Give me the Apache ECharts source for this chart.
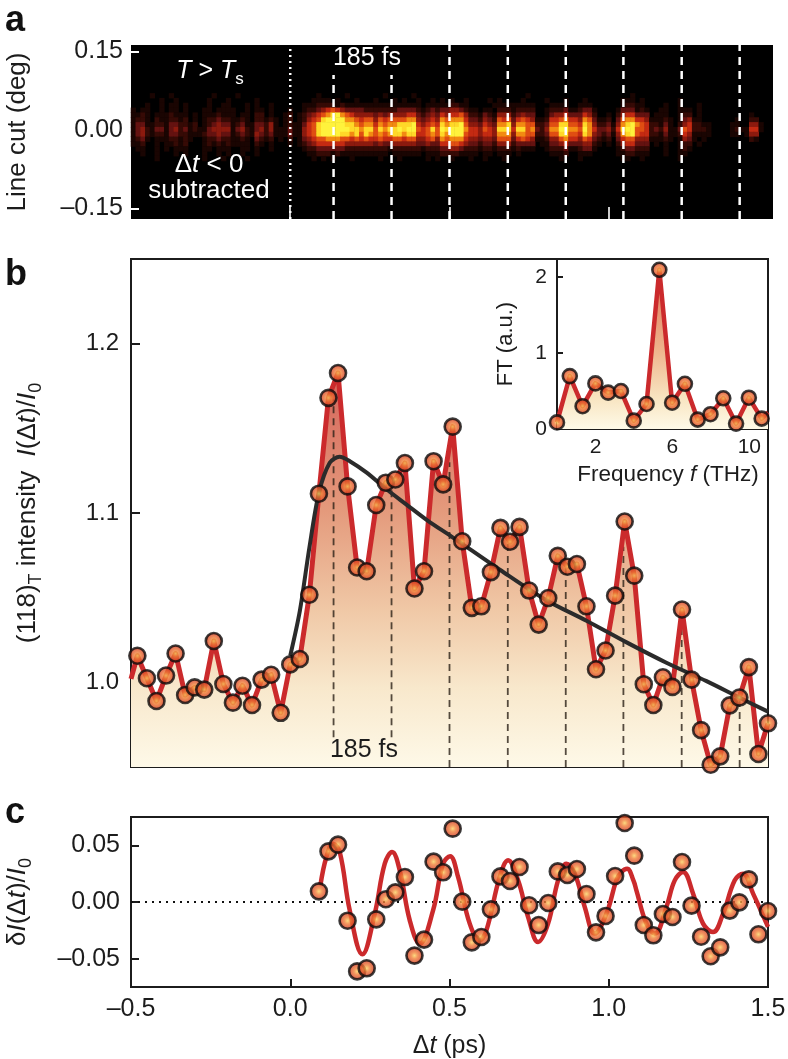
<!DOCTYPE html>
<html><head><meta charset="utf-8">
<style>html,body{margin:0;padding:0;background:#fff}#c{width:788px;height:1059px}</style>
<script src="https://cdn.jsdelivr.net/npm/echarts@6/dist/echarts.min.js"></script>
</head><body><div id="c"></div>
<script>
const FONT='"Liberation Sans",Arial,sans-serif';
// panel b: (118)T intensity
const bTimes=[-0.48,-0.45,-0.42,-0.39,-0.36,-0.33,-0.30,-0.27,-0.24,-0.21,-0.18,-0.15,-0.12,-0.09,-0.06,-0.03,0,0.03,0.06,0.09,0.12,0.15,0.18,0.21,0.24,0.27,0.30,0.33,0.36,0.39,0.42,0.45,0.48,0.51,0.54,0.57,0.60,0.63,0.66,0.69,0.72,0.75,0.78,0.81,0.84,0.87,0.90,0.93,0.96,0.99,1.02,1.05,1.08,1.11,1.14,1.17,1.20,1.23,1.26,1.29,1.32,1.35,1.38,1.41,1.44,1.47,1.50];
const bValues=[1.0157,1.0024,0.989,1.004,1.017,0.9925,0.997,0.9957,1.0244,0.999,0.988,0.998,0.9866,1.0016,1.0045,0.982,1.0106,1.0138,1.0517,1.1114,1.168,1.1827,1.1157,1.0678,1.0656,1.1047,1.1179,1.1198,1.1295,1.0554,1.0656,1.1306,1.1169,1.151,1.0833,1.044,1.0449,1.0651,1.0912,1.083,1.0918,1.0542,1.0341,1.0498,1.0747,1.0683,1.0699,1.0449,1.0077,1.0188,1.0512,1.095,1.063,0.9989,0.9866,1.003,0.9973,1.043,1.0016,0.9718,0.9513,0.9563,0.9864,0.991,1.009,0.9577,0.9758];
const bLineStart=[-0.5,1.002];
const fitTimes=[0,0.03,0.06,0.09,0.124,0.155,0.187,0.24,0.302,0.365,0.428,0.511,0.658,0.804,0.93,1.056,1.181,1.307,1.41,1.5];
const fitValues=[1.0157,1.042,1.0795,1.112,1.1297,1.1332,1.1306,1.1238,1.114,1.105,1.096,1.0855,1.0665,1.0485,1.0364,1.0236,1.0116,1.0007,0.991,0.9827];
const dashTimes=[0.136,0.318,0.5,0.683,0.865,1.046,1.229,1.411];
const dashTops=[1.167,1.118,1.13,1.083,1.068,1.08,1.04,0.991];
const dashBottoms=[0.9676,0.9676,0.95,0.95,0.95,0.95,0.95,0.95];
// inset: Fourier transform
const ftFreq=[0,0.665,1.33,1.995,2.66,3.325,3.99,4.655,5.32,5.985,6.65,7.315,7.98,8.645,9.31,9.975,10.64];
const ftValues=[0.087,0.696,0.30,0.60,0.479,0.50,0.11,0.329,2.095,0.346,0.595,0.124,0.195,0.404,0.071,0.412,0.137];
const ftLineEnd=[10.97,0.22];
// panel c: residual
const cTimes=[0.09,0.12,0.15,0.18,0.21,0.24,0.27,0.30,0.33,0.36,0.39,0.42,0.45,0.48,0.51,0.54,0.57,0.60,0.63,0.66,0.69,0.72,0.75,0.78,0.81,0.84,0.87,0.90,0.93,0.96,0.99,1.02,1.05,1.08,1.11,1.14,1.17,1.20,1.23,1.26,1.29,1.32,1.35,1.38,1.41,1.44,1.47,1.50];
const cValues=[0.0094,0.0447,0.0506,-0.0165,-0.0612,-0.0585,-0.0153,0.0024,0.0085,0.022,-0.0473,-0.0332,0.0356,0.0262,0.0647,0.0003,-0.0356,-0.0309,-0.0065,0.0226,0.0185,0.0309,-0.0029,-0.0203,-0.0009,0.027,0.0238,0.0291,0.0071,-0.0268,-0.0123,0.0229,0.0697,0.0409,-0.0203,-0.0294,-0.0106,-0.0132,0.0353,-0.0032,-0.0306,-0.0479,-0.04,-0.0076,-0.0003,0.02,-0.0285,-0.0079];
const cFitTimes=[0.0947,0.1135,0.1344,0.1554,0.1868,0.2265,0.2653,0.2967,0.3197,0.3438,0.3752,0.4066,0.4484,0.4798,0.5018,0.5269,0.5635,0.5949,0.6159,0.6577,0.6839,0.7153,0.7467,0.7781,0.8095,0.8409,0.867,0.8932,0.9246,0.956,0.9926,1.024,1.0397,1.0575,1.0777,1.0868,1.1182,1.1444,1.181,1.2072,1.2333,1.2647,1.2961,1.3275,1.359,1.3956,1.4218,1.4532,1.5];
const cFitValues=[0.0147,0.0397,0.0515,0.0441,-0.0074,-0.0462,-0.0103,0.0338,0.0441,0.0279,-0.0162,-0.0368,-0.0074,0.0338,0.0403,0.0221,-0.0191,-0.0338,-0.025,0.0221,0.0368,0.0191,-0.0132,-0.0353,-0.0191,0.0191,0.0338,0.025,-0.0044,-0.0279,-0.0103,0.0191,0.0265,0.0294,0.0188,0.0103,-0.0191,-0.0279,-0.0044,0.0191,0.0265,0.0074,-0.0191,-0.0265,-0.0103,0.0191,0.025,0.0074,-0.022];
// panel a: detector line cut, digit = intensity level, one string per detector row
const heatFirstRow=10;
const heatRows=[
"0000100010 0000000100 0010000000 0000000001 0000010000 0001000001 0000000000 0000000000 0001000000 0000000000 0000010000 0000000000 0000000000 00000",
"0000001001 0000001000 1000001000 0000000011 1101000100 0100010100 1001010100 1000010100 0010000100 0100010000 0001110100 0000010000 0000000000 00000",
"0001001011 0100001001 1000101001 0000001112 2221211111 1111111111 1011111221 1000001111 1111100011 1100111000 0001221100 0010010001 0000000000 00000",
"1011001011 0100011011 1100101101 0001001223 4565433332 2222223333 2123233443 2110110222 1222200122 2311233100 0013331210 0110011101 0000000000 00000",
"1121011121 1101011121 1101102201 0012012345 6789765444 4343444455 3234354556 4221321444 2343300134 4533354200 1024553330 1110012201 0000000000 10000",
"1221021122 1201012232 2112102212 1012012456 8999977656 6465666677 4345476777 5332432656 3565411255 6755476311 2036775541 1121013411 0000000100 22000",
"1331122133 2212012343 3123113324 1012113568 9999988767 7576778889 5456587889 6443543778 4776622366 8866587422 3147897652 2131024522 1100001100 44100",
"1342133134 2312113444 4134213424 1113114568 9999998878 8687889899 6568698999 7554654888 5886732477 9977697533 4258996652 3241136522 2100001211 55100",
"1342122133 2211123343 3123214323 1113114568 9999887868 7676788788 5567687999 6554554777 4776622366 8866587432 3147896552 2131125411 1100001101 44000",
"1231011122 1210012232 2112103212 0102013456 6777665656 5565566566 4456476777 5443443666 3565411244 6755465321 2035664441 1121014310 1000000000 21000",
"1120010112 1200012121 2111102101 0001012345 5555544444 4343344444 3343355665 4332332444 2333301133 4533344210 1024553330 1010012201 0000000000 00000",
"0110010101 1100011011 1001101001 0000001223 3333322222 2222122222 2122233443 2221221222 1211100122 2311233100 0012332220 0010012100 0000000000 00000",
"0010010001 0100010010 1001001000 0000000112 2212111111 1111011111 1011122221 1110110111 0100000011 1200111000 0011221110 0010011000 0000000000 00000",
"0000010000 0000010001 0000100000 0000000010 1010001000 0010001000 0010100100 0100100010 0000000000 1000100000 0001100100 0000010000 0000000000 00000"
];
const heatColumnCount=135, heatRowCount=36;
const heatColors=['#000000','#1a0502','#360a05','#641210','#8c1a0e','#c42a12','#e04e12','#f28a12','#ffd828','#fff23c'];
const yTicksA=[-0.15,0,0.15], yTicksB=[1.0,1.1,1.2], yTicksC=[-0.05,0,0.05], xTicksInner=[0,0.5,1.0], ftXTicks=[2,6,10], ftYTicks=[0,1,2];

const heatData=[];
heatRows.forEach((r,ri)=>{const s=r.replace(/ /g,'');for(let c=0;c<s.length;c++){const v=+s[c];if(v>0)heatData.push([c,heatFirstRow+ri,v]);}});
const zip=(a,b)=>a.map((x,i)=>[x,b[i]]);
const minus=s=>String(s).replace('-','–');
const INK='#1c1c1c';
const marker={color:{type:'radial',x:.5,y:.5,r:.55,colorStops:[{offset:0,color:'#fbd060'},{offset:.3,color:'#f08038'},{offset:.7,color:'#d84428'},{offset:1,color:'#b82a1e'}]},borderColor:'#0c0c0c',borderWidth:2.6};
const RED='#cb2a2c';
const richBase=(size,col)=>({
 n:{fontFamily:FONT,fontSize:size,color:col,lineHeight:34},
 i:{fontFamily:FONT,fontSize:size,fontStyle:'italic',color:col,lineHeight:34},
 s:{fontFamily:FONT,fontSize:Math.round(size*.68),color:col,verticalAlign:'bottom',lineHeight:34}
});
const lbl=(size,fmt,margin,extra)=>Object.assign({show:true,fontFamily:FONT,fontSize:size,color:INK,margin,formatter:fmt},extra||{});
const valAxis=(o)=>Object.assign({type:'value',scale:false,splitLine:{show:false},axisLine:{show:false,onZero:false},axisLabel:{show:false},axisTick:{show:false}},o);
const tick=(len,col,w,vals)=>({show:true,inside:true,length:len,lineStyle:{color:col,width:w},customValues:vals});

const series=[];
series.push({type:'heatmap',xAxisIndex:0,yAxisIndex:0,data:heatData,progressive:0,itemStyle:{borderWidth:0},emphasis:{disabled:true}});
// panel a overlays
dashTimes.forEach((t,i)=>series.push({type:'line',xAxisIndex:1,yAxisIndex:1,data:[[t,-0.17],[t,i<2?0.105:0.1624]],symbol:'none',lineStyle:{color:'#fff',width:2.5,type:[8,6]},silent:true,z:4}));
series.push({type:'line',xAxisIndex:1,yAxisIndex:1,data:[[0,-0.17],[0,0.1624]],symbol:'none',lineStyle:{color:'#fff',width:2.5,type:[2,4]},silent:true,z:4});
// panel b
series.push({type:'line',xAxisIndex:2,yAxisIndex:2,data:[bLineStart].concat(zip(bTimes,bValues)),symbol:'none',lineStyle:{width:0},
 areaStyle:{opacity:1,origin:'start',color:{type:'linear',x:0,y:0,x2:0,y2:1,colorStops:[{offset:0,color:'#d6645a'},{offset:.35,color:'#e49a7c'},{offset:.6,color:'#f0c8a6'},{offset:.8,color:'#f8e8cc'},{offset:1,color:'#fef9e8'}]}},silent:true,z:2});
dashTimes.forEach((t,i)=>series.push({type:'line',xAxisIndex:2,yAxisIndex:2,data:[[t,dashBottoms[i]],[t,dashTops[i]]],symbol:'none',lineStyle:{color:'#2a2016',width:1.8,type:[7,5],opacity:.8},silent:true,z:3}));
series.push({type:'line',xAxisIndex:2,yAxisIndex:2,data:[bLineStart].concat(zip(bTimes,bValues)),symbol:'none',lineStyle:{color:RED,width:5,join:'round'},silent:true,z:4});
series.push({type:'line',xAxisIndex:2,yAxisIndex:2,data:zip(fitTimes,fitValues),symbol:'none',smooth:.3,lineStyle:{color:'#2b2b2b',width:4},silent:true,z:5});
series.push({type:'scatter',xAxisIndex:2,yAxisIndex:2,data:zip(bTimes,bValues),symbolSize:16,itemStyle:marker,clip:false,silent:true,z:6});
// inset
series.push({type:'line',xAxisIndex:3,yAxisIndex:3,data:zip(ftFreq,ftValues).concat([ftLineEnd]),symbol:'none',lineStyle:{color:RED,width:4.5,join:'round'},
 areaStyle:{opacity:1,origin:'start',color:{type:'linear',x:0,y:0,x2:0,y2:1,colorStops:[{offset:0,color:'#dd7055'},{offset:.5,color:'#eeb48c'},{offset:.8,color:'#f8e4c0'},{offset:1,color:'#fefae8'}]}},silent:true,z:4});
series.push({type:'scatter',xAxisIndex:3,yAxisIndex:3,data:zip(ftFreq,ftValues),symbolSize:14,itemStyle:marker,clip:false,silent:true,z:6});
// panel c
series.push({type:'line',xAxisIndex:4,yAxisIndex:4,data:[[-0.5,0],[1.5,0]],symbol:'none',lineStyle:{color:'#111',width:2,type:[2,5]},silent:true,z:3});
series.push({type:'line',xAxisIndex:4,yAxisIndex:4,data:zip(cFitTimes,cFitValues),symbol:'none',smooth:.4,lineStyle:{color:RED,width:4.5},silent:true,z:4});
series.push({type:'scatter',xAxisIndex:4,yAxisIndex:4,data:zip(cTimes,cValues),symbolSize:16,itemStyle:marker,clip:false,silent:true,z:6});

const text=(x,y,t,size,col,rich,extra)=>({type:'text',x,y,z:100,silent:true,style:Object.assign({text:t,fontFamily:FONT,fontSize:size,fill:col,align:'center',verticalAlign:'middle',rich:rich},extra||{})});
const noBounds={outerBoundsMode:'none',containLabel:false};
const option={
 animation:false,backgroundColor:'#fff',
 visualMap:{show:false,type:'continuous',seriesIndex:0,min:0,max:9,dimension:2,inRange:{color:heatColors}},
 grid:[
  Object.assign({left:131,top:45,width:642,height:174,show:true,backgroundColor:'#000',borderWidth:0},noBounds),
  Object.assign({left:131,top:259,width:637,height:508,show:true,borderColor:INK,borderWidth:2},noBounds),
  Object.assign({left:557,top:259,width:211,height:170,show:true,borderColor:INK,borderWidth:2},noBounds),
  Object.assign({left:131,top:817,width:637,height:170,show:true,borderColor:INK,borderWidth:2},noBounds)
 ],
 xAxis:[
  {type:'category',gridIndex:0,show:false,data:Array.from({length:heatColumnCount},(_,i)=>i)},
  valAxis({gridIndex:0,position:'bottom',min:-0.5,max:1.5157,axisTick:tick(12,'#fff',1.6,xTicksInner)}),
  valAxis({gridIndex:1,position:'bottom',min:-0.5,max:1.5,axisTick:tick(9,INK,2,xTicksInner)}),
  valAxis({gridIndex:2,position:'bottom',min:0,max:10.97,axisTick:tick(5,INK,2,ftXTicks),axisLabel:lbl(21,v=>String(v),8,{customValues:ftXTicks})}),
  valAxis({gridIndex:3,position:'bottom',min:-0.5,max:1.5,interval:0.5,axisTick:{show:true,inside:true,length:8,lineStyle:{color:INK,width:2}},
   axisLabel:lbl(25,v=>minus(v.toFixed(1)),10,{hideOverlap:false,showMinLabel:true,showMaxLabel:true}),
   name:'{n|Δ}{i|t}{n| (ps)}',nameLocation:'middle',nameGap:42,nameTextStyle:{fontFamily:FONT,fontSize:25,color:INK,rich:richBase(25,INK)}})
 ],
 yAxis:[
  {type:'category',gridIndex:0,show:false,inverse:true,data:Array.from({length:heatRowCount},(_,i)=>i)},
  valAxis({gridIndex:0,position:'left',min:-0.17,max:0.1624,axisTick:tick(8,'#fff',2,yTicksA),axisLabel:lbl(25,v=>minus(v.toFixed(2)),8,{customValues:yTicksA}),
   name:'Line cut (deg)',nameLocation:'middle',nameGap:100,nameTextStyle:{fontFamily:FONT,fontSize:26,color:INK}}),
  valAxis({gridIndex:1,position:'left',min:0.95,max:1.25,axisTick:tick(9,INK,2,yTicksB),axisLabel:lbl(24,v=>v.toFixed(1),12,{customValues:yTicksB}),
   name:'{n|(118)}{s|T}{n| intensity  }{i|I}{n|(Δ}{i|t}{n|)/}{i|I}{s|0}',nameLocation:'middle',nameGap:86,nameTextStyle:{fontFamily:FONT,fontSize:26,color:INK,rich:richBase(26,INK)}}),
  valAxis({gridIndex:2,position:'left',min:0,max:2.237,axisTick:tick(6,INK,2,ftYTicks),axisLabel:lbl(21,v=>String(v),10,{customValues:ftYTicks}),
   name:'FT (a.u.)',nameLocation:'middle',nameGap:40,nameTextStyle:{fontFamily:FONT,fontSize:22,color:INK}}),
  valAxis({gridIndex:3,position:'left',min:-0.075,max:0.075,axisTick:tick(8,INK,2,yTicksC),axisLabel:lbl(25,v=>minus(v.toFixed(2)),11,{customValues:yTicksC}),
   name:'{n|δ}{i|I}{n|(Δ}{i|t}{n|)/}{i|I}{s|0}',nameLocation:'middle',nameGap:96,nameTextStyle:{fontFamily:FONT,fontSize:26,color:INK,rich:richBase(26,INK)}})
 ],
 graphic:[
  text(15,21,'a',36,'#111',null,{fontWeight:'bold'}),
  text(16,275,'b',36,'#111',null,{fontWeight:'bold'}),
  text(15,813,'c',36,'#111',null,{fontWeight:'bold'}),
  text(367,58,'185 fs',25,'#fff'),
  text(210,71,'{i|T}{n| > }{i|T}{s|s}',25,'#fff',{i:{fontFamily:FONT,fontSize:25,fontStyle:'italic',fill:'#fff',lineHeight:34},n:{fontFamily:FONT,fontSize:25,fill:'#fff',lineHeight:34},s:{fontFamily:FONT,fontSize:17,fill:'#fff',verticalAlign:'bottom',lineHeight:34}}),
  text(209,165,'{n|Δ}{i|t}{n| < 0}',26,'#fff',{i:{fontFamily:FONT,fontSize:26,fontStyle:'italic',fill:'#fff'},n:{fontFamily:FONT,fontSize:26,fill:'#fff'}}),
  text(209,191,'subtracted',26,'#fff'),
  text(364,750,'185 fs',25,INK),
  text(668,475,'{n|Frequency }{i|f}{n| (THz)}',22.5,INK,{i:{fontFamily:FONT,fontSize:22.5,fontStyle:'italic',fill:INK},n:{fontFamily:FONT,fontSize:22.5,fill:INK}})
 ],
 series
};
const chart=echarts.init(document.getElementById('c'),null,{renderer:'canvas',width:788,height:1059});
chart.setOption(option);
</script></body></html>
